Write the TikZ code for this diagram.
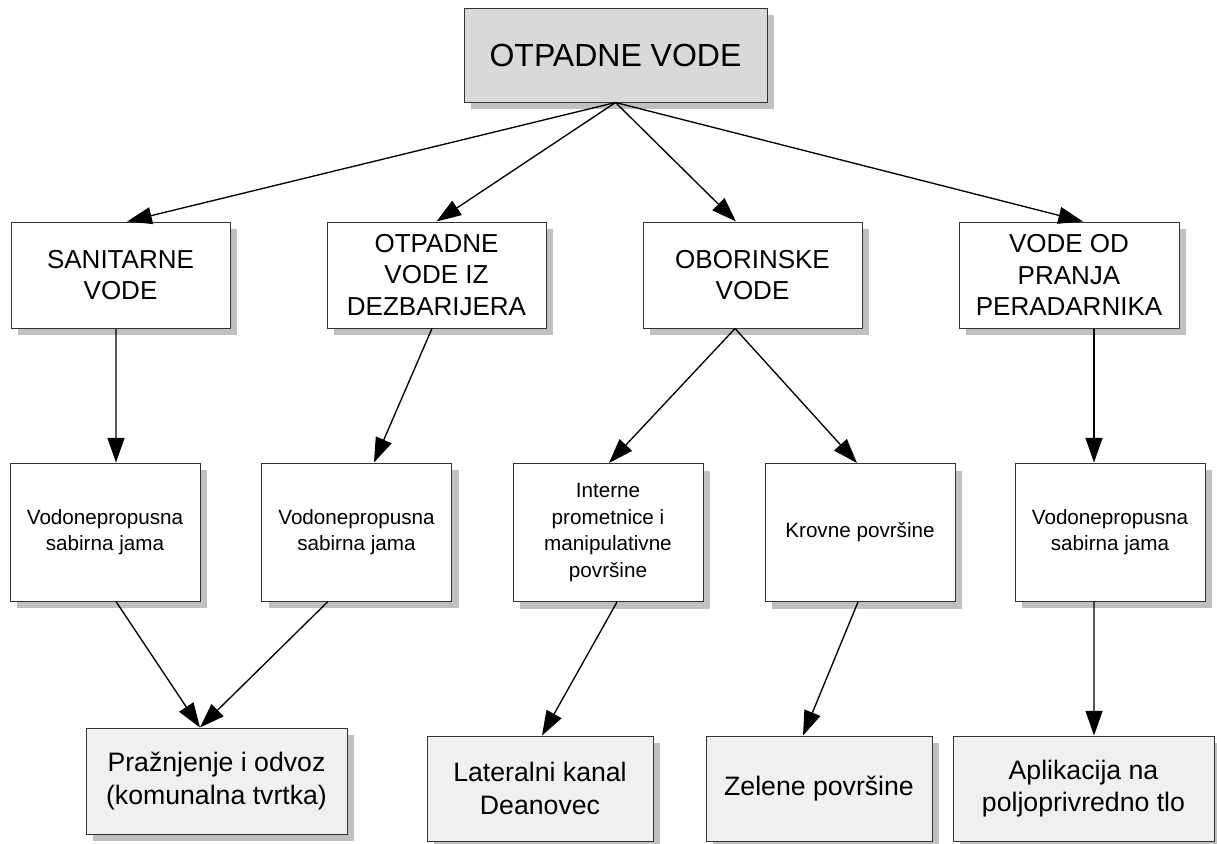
\documentclass[tikz,border=0pt]{standalone}
\usepackage{fontspec}
\setmainfont{Liberation Sans}
\usetikzlibrary{arrows.meta,shadows}
\definecolor{shadowgray}{RGB}{192,192,192}
\definecolor{headfill}{RGB}{217,217,217}
\definecolor{endfill}{RGB}{240,240,240}
\definecolor{edgegray}{RGB}{51,51,51}
\tikzset{
  box/.style={draw=edgegray, line width=0.75pt, align=center, inner sep=0pt,
    drop shadow={shadow xshift=5.25pt, shadow yshift=-5.25pt, fill=shadowgray, opacity=1}},
  boxsize/.style 2 args={minimum width=#1*0.75pt, minimum height=#2*0.75pt},
  head/.style={box, fill=headfill, font=\fontsize{24}{28}\selectfont},
  group/.style={box, fill=white, font=\fontsize{19.5}{23.8}\selectfont},
  source/.style={box, fill=white, font=\fontsize{15.5}{20}\selectfont},
  outlet/.style={box, fill=endfill, font=\fontsize{20}{24.5}\selectfont},
  link/.style={line width=1pt, -{Triangle[length=18.5pt,width=12.75pt]}}
}
\begin{document}
\begin{tikzpicture}[x=0.75pt,y=-0.75pt]

\useasboundingbox (0,0) rectangle (1217,843);

% root
\node[head, boxsize={303}{94}] (top) at (615.5,55) {OTPADNE VODE};

% kinds of waste water
\node[group, boxsize={219}{106}] (san) at (120.5,275) {SANITARNE\\VODE};
\node[group, boxsize={219}{106}] (dez) at (436.5,275) {OTPADNE\\VODE IZ\\DEZBARIJERA};
\node[group, boxsize={219}{106}] (obo) at (752.5,275) {OBORINSKE\\VODE};
\node[group, boxsize={220}{106}] (pra) at (1069,275) {VODE OD\\PRANJA\\PERADARNIKA};

% collection
\node[source, boxsize={190}{138}] (v1) at (105,532) {Vodonepropusna\\sabirna jama};
\node[source, boxsize={190}{138}] (v2) at (356.5,532) {Vodonepropusna\\sabirna jama};
\node[source, boxsize={190}{138}] (int) at (608,532.5) {Interne\\prometnice i\\manipulativne\\površine};
\node[source, boxsize={190}{138}] (kro) at (860,532.5) {Krovne površine};
\node[source, boxsize={190}{138}] (v3) at (1110,532) {Vodonepropusna\\sabirna jama};

% final destinations
\node[outlet, boxsize={261}{106}] (prz) at (216.5,781) {Pražnjenje i odvoz\\(komunalna tvrtka)};
\node[outlet, boxsize={226}{105}] (lat) at (540,788.5) {Lateralni kanal\\Deanovec};
\node[outlet, boxsize={226}{105}] (zel) at (819,788.5) {Zelene površine};
\node[outlet, boxsize={261}{105}] (apl) at (1083.5,788.5) {Aplikacija na\\poljoprivredno tlo};

% root to kinds
\draw[link] (top.south) -- ([xshift=5pt]san.north);
\draw[link] (top.south) -- (dez.north);
\draw[link] (top.south) -- ([xshift=-12.4pt]obo.north);
\draw[link] (top.south) -- ([xshift=10.5pt]pra.north);

% kinds to collection
\draw[link] ([xshift=-3.4pt]san.south) -- ([xshift=8.25pt]v1.north);
\draw[link] ([xshift=-3.4pt]dez.south) -- ([xshift=13.1pt]v2.north);
\coordinate (oboout) at ([xshift=-13.1pt]obo.south);
\draw[link] (oboout) -- ([xshift=0.75pt]int.north);
\draw[link] (oboout) -- ([xshift=-2.25pt]kro.north);
\draw[link] ([xshift=18.75pt]pra.south) -- ([xshift=-12pt]v3.north);

% collection to destinations
\coordinate (przin) at ([xshift=-12.4pt]prz.north);
\draw[link] ([xshift=8.25pt]v1.south) -- (przin);
\draw[link] ([xshift=-21.4pt]v2.south) -- (przin);
\draw[link] ([xshift=6.75pt]int.south) -- ([xshift=1.5pt]lat.north);
\draw[link] ([xshift=-1.5pt]kro.south) -- ([xshift=-12pt]zel.north);
\draw[link] ([xshift=-12pt]v3.south) -- ([xshift=7.9pt]apl.north);
\end{tikzpicture}
\end{document}
